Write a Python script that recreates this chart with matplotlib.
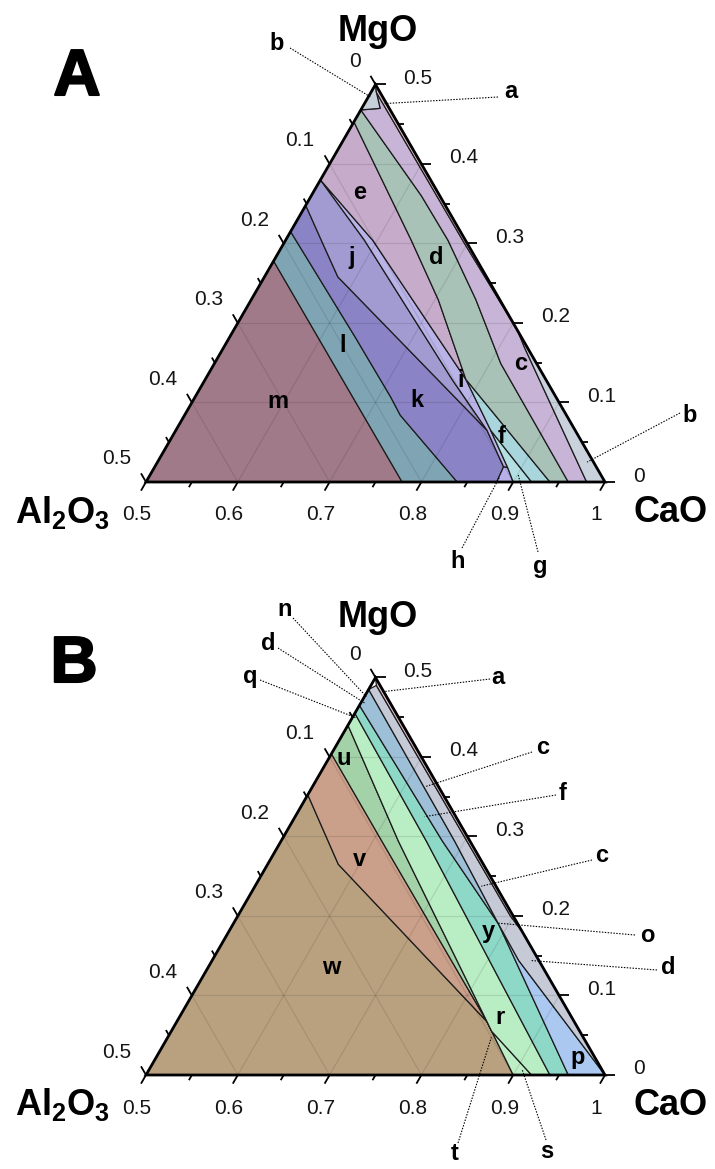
import numpy as np
import matplotlib.pyplot as plt
from matplotlib.patches import Polygon
import matplotlib.patheffects as pe

plt.rcParams['font.family'] = ['Liberation Sans', 'DejaVu Sans']
plt.rcParams['mathtext.fontset'] = 'custom'
plt.rcParams['mathtext.rm'] = 'Liberation Sans:bold'
plt.rcParams['mathtext.bf'] = 'Liberation Sans:bold'
plt.rcParams['mathtext.it'] = 'Liberation Sans:bold'

# ---------------- data: phase fields, vertices as (Al2O3, MgO) fractions ----------------
# Panel A
A_m = [(0.5, 0), (0.222, 0.278), (0.221, 0)]
A_l = [(0.221, 0), (0.222, 0.278), (0.185, 0.315), (0.181, 0.182), (0.180, 0.107), (0.181, 0.084), (0.161, 0)]
A_k = [(0.152, 0.348), (0.185, 0.315), (0.181, 0.182), (0.180, 0.107), (0.181, 0.084), (0.161, 0),
       (0.118, 0), (0.101, 0.019), (0.096, 0.065), (0.162, 0.258), (0.157, 0.304)]
A_j = [(0.12, 0.38), (0.152, 0.348), (0.157, 0.304), (0.162, 0.258), (0.096, 0.065), (0.102, 0.128), (0.110, 0.304)]
A_i = [(0.12, 0.38), (0.110, 0.304), (0.102, 0.128), (0.096, 0.065), (0.101, 0.019), (0.097, 0.018),
       (0.092, 0.065), (0.087, 0.129), (0.101, 0.304)]
A_h = [(0.101, 0.019), (0.118, 0), (0.100, 0), (0.097, 0.018)]
A_g = [(0.092, 0.065), (0.097, 0.018), (0.100, 0), (0.080, 0)]
A_f = [(0.087, 0.129), (0.092, 0.065), (0.080, 0), (0.060, 0)]
A_e = [(0.047, 0.453), (0.12, 0.38), (0.101, 0.304), (0.087, 0.129), (0.067, 0.229), (0.059, 0.304)]
A_d = [(0.032, 0.468), (0.047, 0.453), (0.059, 0.304), (0.067, 0.229), (0.087, 0.129), (0.060, 0),
       (0.040, 0), (0.039, 0.149), (0.026, 0.229), (0.019, 0.304), (0.020, 0.36)]
A_c = [(0.004, 0.49), (0.010, 0.47), (0.032, 0.468), (0.020, 0.36), (0.019, 0.304), (0.026, 0.229),
       (0.039, 0.149), (0.040, 0), (0.020, 0), (0.003, 0.17), (0, 0.19), (0.003, 0.30)]
A_b1 = [(0, 0.5), (0.032, 0.468), (0.010, 0.47), (0.004, 0.49)]
A_b2 = [(0, 0.19), (0.003, 0.17), (0.020, 0), (0, 0)]
A_a = [(0, 0.5), (0.004, 0.49), (0.003, 0.30), (0, 0.19)]

# Panel B
B_w = [(0.5, 0), (0.1475, 0.3525), (0.158, 0.265), (0.095, 0.067), (0.100, 0)]
B_v = [(0.1475, 0.3525), (0.096, 0.404), (0.096, 0.294), (0.095, 0.067), (0.158, 0.265)]
B_u = [(0.096, 0.404), (0.060, 0.440), (0.078, 0.294), (0.095, 0.067), (0.096, 0.294)]
B_s = [(0.096, 0.055), (0.080, 0), (0.100, 0), (0.095, 0.067)]
B_r = [(0.060, 0.440), (0.045, 0.455), (0.0475, 0.294), (0.060, 0), (0.080, 0), (0.096, 0.055),
       (0.095, 0.067), (0.078, 0.294)]
B_y = [(0.045, 0.455), (0.035, 0.465), (0.030, 0.294), (0.021, 0.19), (0.040, 0), (0.060, 0), (0.0475, 0.294)]
B_f = [(0.015, 0.485), (0.035, 0.465), (0.030, 0.294), (0.021, 0.19), (0.0167, 0.294)]
B_p = [(0.021, 0.19), (0.040, 0), (0, 0), (0.022, 0.144)]
B_c = [(0.004, 0.49), (0.015, 0.485), (0.0167, 0.294), (0.021, 0.19), (0.022, 0.144), (0, 0),
       (0, 0.18), (0.003, 0.20)]
B_a = [(0, 0.5), (0.004, 0.49), (0.003, 0.20), (0, 0.18)]

A_colors = {'m': '#a07a88', 'l': '#7fa5b4', 'k': '#8a84c6', 'j': '#a29bd2', 'i': '#b9b3e8',
            'h': '#b7b0ea', 'g': '#b3dfe2', 'f': '#a9d6dc', 'e': '#c6abcb', 'd': '#a9c2b8',
            'c': '#c8b4d6', 'b1': '#c6d0db', 'b2': '#c9d1dc', 'a': '#e6c4cf'}
B_colors = {'w': '#b9a180', 'v': '#caa08a', 'u': '#a3d2a8', 's': '#bdeec6', 'r': '#b9edc3',
            'y': '#8ed8c8', 'f': '#9dbfd8', 'p': '#aac8f0', 'c': '#c6cad7', 'a': '#e6c4cf'}

A_polys = {'m': A_m, 'l': A_l, 'k': A_k, 'j': A_j, 'i': A_i, 'h': A_h, 'g': A_g, 'f': A_f,
           'e': A_e, 'd': A_d, 'c': A_c, 'b1': A_b1, 'b2': A_b2, 'a': A_a}
B_polys = {'w': B_w, 'v': B_v, 'u': B_u, 's': B_s, 'r': B_r, 'y': B_y, 'f': B_f, 'p': B_p,
           'c': B_c, 'a': B_a}

# field labels inside the triangle: (label, Al2O3, MgO)
A_labels = [('e', 0.085, 0.364), ('d', 0.042, 0.283), ('j', 0.135, 0.283), ('c', 0.017, 0.149),
            ('l', 0.200, 0.172), ('k', 0.153, 0.103), ('i', 0.093, 0.128), ('f', 0.084, 0.057),
            ('m', 0.306, 0.101)]
B_labels = [('u', 0.086, 0.3975), ('v', 0.132, 0.271), ('w', 0.231, 0.135), ('y', 0.037, 0.181),
            ('r', 0.078, 0.0725), ('p', 0.019, 0.0225)]
# leader labels: (label, label px position, leader start px, target Al2O3, target MgO)
A_leaders = [('b', (277, 43), (290, 48), 0.013, 0.484), ('a', (511, 92), (498, 97), 0.002, 0.476),
             ('b', (690, 415), (680, 413), 0.007, 0.025), ('h', (458, 562), (462, 548), 0.112, 0.006),
             ('g', (540, 566), (538, 552), 0.090, 0.009)]
B_leaders = [('n', (285, 610), (293, 618), 0.022, 0.476), ('d', (268, 643), (278, 648), 0.028, 0.468),
             ('q', (250, 677), (260, 680), 0.046, 0.449), ('a', (498, 677), (490, 679), 0.002, 0.482),
             ('c', (543, 748), (532, 752), 0.015, 0.3625), ('f', (563, 793), (556, 795), 0.034, 0.325),
             ('c', (602, 855), (592, 860), 0.016, 0.2375), ('o', (647, 935), (635, 935), 0.021, 0.191),
             ('d', (668, 968), (657, 970), 0.009, 0.144), ('t', (455, 1154), (458, 1143), 0.100, 0.0475),
             ('s', (547, 1152), (546, 1140), 0.087, 0.006)]

CAO_TICKS = [0.5, 0.6, 0.7, 0.8, 0.9, 1.0]
MGO_TICKS = [0.5, 0.4, 0.3, 0.2, 0.1, 0.0]
AL_TICKS = [0.0, 0.1, 0.2, 0.3, 0.4, 0.5]

# ---------------- helpers ----------------
S3 = np.sqrt(3) / 2
U = 918.0  # pixels per unit of cartesian ternary coordinate


def tern(pts):
    p = np.asarray(pts, float)
    a, m = p[:, 0], p[:, 1]
    return np.column_stack([1 - a - m / 2, m * S3])


def fmt(v):
    if abs(v) < 1e-9:
        return '0'
    if abs(v - 1) < 1e-9:
        return '1'
    return f'{v:.1f}'


fig = plt.figure(figsize=(7.15, 11.69), dpi=100)


def make_panel(top_px, base_px, polys, colors, labels, leaders, letter, letter_px, mgo_px,
               al_px, cao_px):
    bottom_px = top_px + 584.5
    ax = fig.add_axes([0, 1 - bottom_px / 1169, 1, 584.5 / 1169])
    ax.set_xlim(0.5 - 146 / U, 0.5 + (715 - 146) / U)
    ax.set_ylim((base_px - bottom_px) / U, (base_px - top_px) / U)
    ax.axis('off')

    def P(px, py):
        return 0.5 + (px - 146) / U, (base_px - py) / U

    for name, verts in polys.items():
        ax.add_patch(Polygon(tern(verts), closed=True, fc=colors[name], ec='#1c1c1c',
                             lw=0.9, zorder=1, joinstyle='round'))
    # grid
    gk = dict(color='black', alpha=0.10, lw=0.9, zorder=2)
    for v in [0.1, 0.2, 0.3, 0.4]:
        for seg in ([(0.5 - v, v), (0, v)], [(v, 0), (v, 0.5 - v)], [(v, 0), (0, v)]):
            xy = tern(seg)
            ax.plot(xy[:, 0], xy[:, 1], **gk)
    # triangle frame
    ax.add_patch(Polygon(tern([(0, 0.5), (0.5, 0), (0, 0)]), closed=True, fill=False, lw=2.0,
                         ec='black', zorder=6, joinstyle='miter'))
    # ticks
    tk = dict(color='black', lw=1.3, zorder=6, solid_capstyle='butt')
    for i in range(11):
        major = i % 2 == 0
        L = (10 if major else 6) / U
        c = 0.5 + 0.05 * i
        x, y = tern([(1 - c, 0)])[0]
        ax.plot([x, x - 0.5 * L], [y, y - S3 * L], **tk)
        m = 0.05 * i
        x, y = tern([(0, m)])[0]
        ax.plot([x, x + L], [y, y], **tk)
        a = 0.05 * i
        x, y = tern([(a, 0.5 - a)])[0]
        ax.plot([x, x - 0.5 * L], [y, y + S3 * L], **tk)
    tf = dict(fontsize=15, color='#151515', zorder=7)
    for c in CAO_TICKS:
        x, y = tern([(1 - c, 0)])[0]
        ax.text(x - 9 / U, y - 33 / U, fmt(c), ha='center', va='center', **tf)
    for m in MGO_TICKS:
        x, y = tern([(0, m)])[0]
        ax.text(x + 28 / U, y + 6 / U, fmt(m), ha='left', va='center', **tf)
    for a in AL_TICKS:
        x, y = tern([(a, 0.5 - a)])[0]
        ax.text(x - 15 / U, y + 23 / U, fmt(a), ha='right', va='center', **tf)
    # field labels
    for lab, a, m in labels:
        x, y = tern([(a, m)])[0]
        ax.text(x, y, lab, ha='center', va='center', fontsize=17, fontweight='bold', zorder=8)
    # leaders
    for lab, lp, sp, a, m in leaders:
        x0, y0 = P(*sp)
        x1, y1 = tern([(a, m)])[0]
        ax.plot([x0, x1], [y0, y1], color='black', lw=0.8, ls=(0, (1.3, 1.3)), zorder=7)
        ax.text(*P(*lp), lab, ha='center', va='center', fontsize=17, fontweight='bold', zorder=8)
    # titles
    t = ax.text(*P(*letter_px), letter, ha='center', va='baseline', fontsize=47, fontweight='bold')
    t.set_path_effects([pe.withStroke(linewidth=1.5, foreground='black')])
    ax.text(*P(*mgo_px), 'MgO', ha='center', va='baseline', fontsize=26, fontweight='bold')
    ax.text(*P(*al_px), r'$\mathbf{Al_2O_3}$', ha='center', va='baseline', fontsize=26)
    ax.text(*P(*cao_px), 'CaO', ha='center', va='baseline', fontsize=26, fontweight='bold')
    return ax


make_panel(0, 482, A_polys, A_colors, A_labels, A_leaders, 'A', (77, 95), (378, 41),
           (63, 523), (671, 522))
make_panel(584.5, 1075, B_polys, B_colors, B_labels, B_leaders, 'B', (74, 682), (378, 627),
           (63, 1115), (671, 1115))

fig.savefig('out.png', dpi=100, facecolor='white')
